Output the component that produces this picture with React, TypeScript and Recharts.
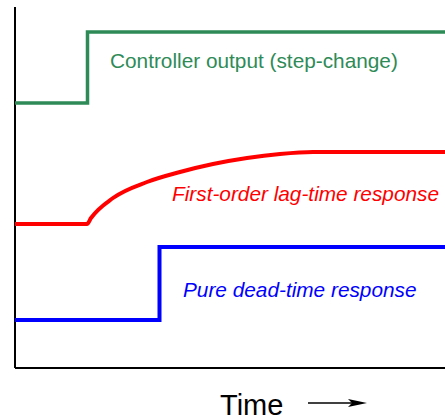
import { LineChart, Line, XAxis, YAxis, ReferenceLine } from "recharts";

// time in tenths of px from the y axis, level in tenths of px above the x axis
const controllerOutput = [
  { t: 0, v: 26.5 },
  { t: 7.25, v: 26.5 },
  { t: 7.25, v: 33.6 },
  { t: 43, v: 33.6 }
];

const lagResponse = [
  { t: 0, v: 14.4 },
  { t: 7.2, v: 14.4 },
  { t: 7.6, v: 15.0 },
  { t: 9.8, v: 17.0 },
  { t: 13.2, v: 18.6 },
  { t: 16.5, v: 19.6 },
  { t: 19.8, v: 20.4 },
  { t: 23.2, v: 21.0 },
  { t: 26.5, v: 21.4 },
  { t: 29.8, v: 21.6 },
  { t: 32.5, v: 21.6 },
  { t: 43, v: 21.6 }
];

const deadTimeResponse = [
  { t: 0, v: 4.8 },
  { t: 14.45, v: 4.8 },
  { t: 14.45, v: 12.1 },
  { t: 43, v: 12.1 }
];

const labels = [
  { text: "Controller output (step-change)", x: 110, y: 68, color: "#2e8b57", italic: false },
  { text: "First-order lag-time response", x: 172, y: 201, color: "#ff0000", italic: true },
  { text: "Pure dead-time response", x: 183, y: 297, color: "#0000ff", italic: true }
];

export default function App() {
  return (
    <div style={{ position: "relative", width: 445, height: 420, background: "#fff" }}>
      <style>{`body{margin:0}`}</style>
      <LineChart
        width={445}
        height={420}
        margin={{ top: 7, right: 0, left: 15, bottom: 52 }}
      >
        <XAxis type="number" dataKey="t" domain={[0, 43]} hide />
        <YAxis type="number" domain={[0, 36.1]} hide />
        {/* axes as plain lines */}
        <ReferenceLine x={0} stroke="#000" strokeWidth={2} ifOverflow="visible" />
        <ReferenceLine y={0} stroke="#000" strokeWidth={2} ifOverflow="visible" />
        <Line
          data={controllerOutput}
          dataKey="v"
          type="linear"
          stroke="#2e8b57"
          strokeWidth={3.5}
          dot={false}
          isAnimationActive={false}
        />
        <Line
          data={lagResponse}
          dataKey="v"
          type="monotone"
          stroke="#ff0000"
          strokeWidth={4}
          dot={false}
          isAnimationActive={false}
        />
        <Line
          data={deadTimeResponse}
          dataKey="v"
          type="linear"
          stroke="#0000ff"
          strokeWidth={4}
          dot={false}
          isAnimationActive={false}
        />
      </LineChart>

      {/* Texte und Zeitpfeil */}
      <svg
        width={445}
        height={420}
        style={{ position: "absolute", left: 0, top: 0, pointerEvents: "none" }}
      >
        {labels.map((l, i) => (
          <text
            key={i}
            x={l.x}
            y={l.y}
            fill={l.color}
            fontFamily="Liberation Sans, Arial, sans-serif"
            fontSize={20.8}
            fontStyle={l.italic ? "italic" : "normal"}
          >
            {l.text}
          </text>
        ))}
        <text
          x={220}
          y={415}
          fill="#000"
          fontFamily="Liberation Sans, Arial, sans-serif"
          fontSize={29}
        >
          Time
        </text>
        <line x1={308} y1={403} x2={352} y2={403} stroke="#000" strokeWidth={1.5} />
        <polygon points="348,399 367,403 348,407 352,403" fill="#000" />
      </svg>
    </div>
  );
}
